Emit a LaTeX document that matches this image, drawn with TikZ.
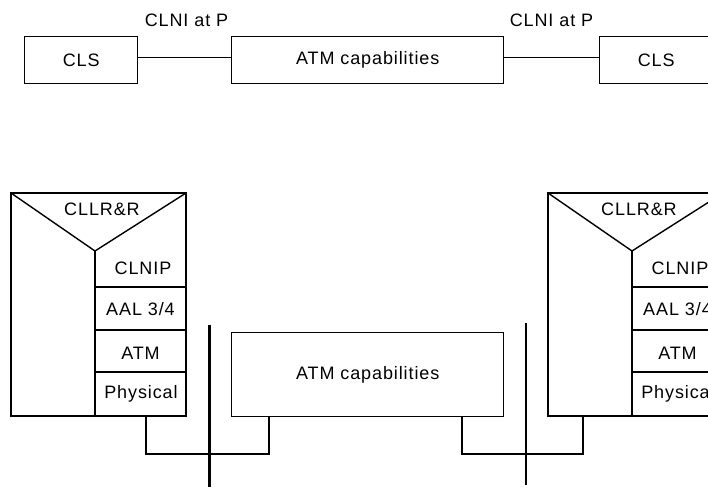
\documentclass[tikz,border=0pt]{standalone}
\usepackage{fontspec}
\setmainfont{Liberation Sans}[LetterSpace=5]
\begin{document}
\begin{tikzpicture}[x=1pt,y=-1pt,
  lbl/.style={font=\fontsize{18}{21}\selectfont, inner sep=0pt},
  box/.style={draw, line width=1.4pt, inner sep=0pt, anchor=north west, lbl},
  ln/.style={line width=1.4pt},
  thk/.style={line width=2.2pt}]
\useasboundingbox (0,0) rectangle (708,488);
\clip (0,0) rectangle (708,488);
% top row
\node[box, minimum width=113pt, minimum height=47pt] (clsL) at (24,36) {CLS};
\node[box, minimum width=272pt, minimum height=47pt] (atmT) at (231,36) {ATM capabilities};
\node[box, minimum width=113pt, minimum height=47pt] (clsR) at (599,36) {CLS};
\draw[ln] ([yshift=2.5pt]clsL.east) -- ([yshift=2.5pt]atmT.west);
\draw[ln] ([yshift=2.5pt]atmT.east) -- ([yshift=2.5pt]clsR.west);
\node[lbl] (pL) at (186.5,20) {CLNI at P};
\node[lbl] (pR) at (551.5,20) {CLNI at P};
% stacks
\foreach \o/\s in {0/L,537/R}{
  \begin{scope}[xshift=\o pt]
    \draw[ln] (11,193) rectangle (186,416);
    \draw[ln] (11,193) -- (95,251) -- (186,193);
    \draw[thk] (95,251) -- (95,416);
    \draw[thk] (95,287) -- (186,287);
    \draw[ln] (95,330) -- (186,330);
    \draw[ln] (95,372) -- (186,372);
    \node[lbl] (cllr\s) at (102,209) {CLLR\&R};
    \node[lbl] (clnip\s) at (143,268) {CLNIP};
    \node[lbl] (aal\s) at (140.5,309) {AAL 3/4};
    \node[lbl] (atm\s) at (140.5,353) {ATM};
    \node[lbl] (phy\s) at (141,394) {Physical};
    \coordinate (phyb\s) at (146,416);
  \end{scope}
}
% lower ATM box
\node[box, minimum width=272pt, minimum height=84pt] (atmB) at (231,332) {ATM capabilities};
% bars
\coordinate (barLt) at (209.5,325);
\coordinate (barLb) at (209.5,487);
\coordinate (barRt) at (526,323);
\coordinate (barRb) at (526,485);
\draw[thk] (barLt) -- (barLb);
\draw[line width=1.6pt] (barRt) -- (barRb);
% wires
\coordinate (wL1) at (146,454);
\coordinate (wL2) at (269,454);
\coordinate (aL) at (269,416);
\draw[ln] (phybL) -- (wL1) -- (wL2) -- (aL);
\coordinate (aR) at (462,416);
\coordinate (wR1) at (462,454);
\coordinate (rR) at (583,416);
\draw[ln] (aR) -- (wR1) -- (rR |- wR1) -- (rR);
\end{tikzpicture}
\end{document}
